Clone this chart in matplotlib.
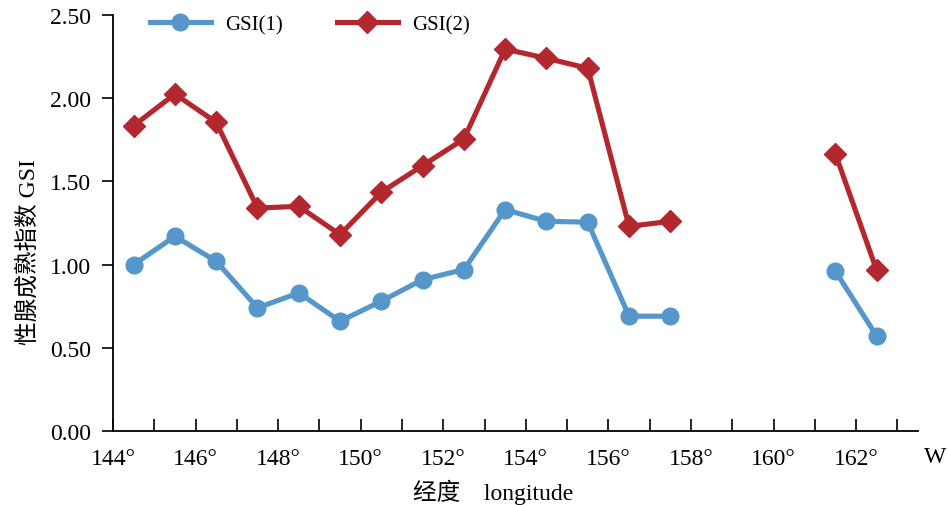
import numpy as np
import matplotlib
matplotlib.use("Agg")
import matplotlib.pyplot as plt

plt.rcParams['font.family'] = ['Liberation Serif', 'Noto Sans CJK SC']

# longitude bins (centre of each 1-degree cell), NaN = no sampling
lon = [144.5, 145.5, 146.5, 147.5, 148.5, 149.5, 150.5, 151.5, 152.5, 153.5,
       154.5, 155.5, 156.5, 157.5, 158.5, 159.5, 160.5, 161.5, 162.5]
gsi1 = [1.00, 1.17, 1.02, 0.74, 0.83, 0.66, 0.78, 0.91, 0.97, 1.33,
        1.26, 1.255, 0.69, 0.69, np.nan, np.nan, np.nan, 0.96, 0.57]
gsi2 = [1.835, 2.025, 1.855, 1.34, 1.35, 1.18, 1.435, 1.595, 1.755, 2.295,
        2.24, 2.18, 1.23, 1.26, np.nan, np.nan, np.nan, 1.665, 0.965]

xticks = list(range(144, 164))
xlabels = [f"{t}°" if t % 2 == 0 else "" for t in xticks]
yticks = [0.0, 0.5, 1.0, 1.5, 2.0, 2.5]

fig = plt.figure(figsize=(9.48, 5.06), dpi=100)
ax = fig.add_axes([113/948, 74/506, 805/948, 416/506])

ax.plot(lon, gsi1, color='#5596CB', lw=3.7, marker='o', ms=12, label='GSI(1)')
ax.plot(lon, gsi2, color='#B3282F', lw=3.7, marker='D', ms=11.5, label='GSI(2)')

ax.set_xlim(144, 163.5)
ax.set_ylim(0, 2.5)
ax.set_xticks(xticks)
ax.set_xticklabels(xlabels, fontsize=17)
ax.set_yticks(yticks)
ax.set_yticklabels([f"{v:.2f}" for v in yticks], fontsize=17)
ax.tick_params(axis='x', direction='in', length=9, width=1.2, pad=12)
ax.tick_params(axis='y', direction='out', length=8, width=1.2, pad=8)
for s in ['top', 'right']:
    ax.spines[s].set_visible(False)
for s in ['left', 'bottom']:
    ax.spines[s].set_linewidth(1.3)

ax.legend(loc='upper left', bbox_to_anchor=(0.023, 1.045), ncol=2, frameon=False,
          fontsize=15, handlelength=2.9, columnspacing=2.6, handletextpad=0.7)

fig.text(924/948, 1 - 458/506, 'W', fontsize=17, va='center')
fig.text(493/948, 1 - 492/506, '经度　longitude', fontsize=17, ha='center', va='center')
fig.text(28/948, 1 - 252/506, '性腺成熟指数 GSI', fontsize=17, rotation=90,
         ha='center', va='center')

fig.savefig('out.png', dpi=100)
